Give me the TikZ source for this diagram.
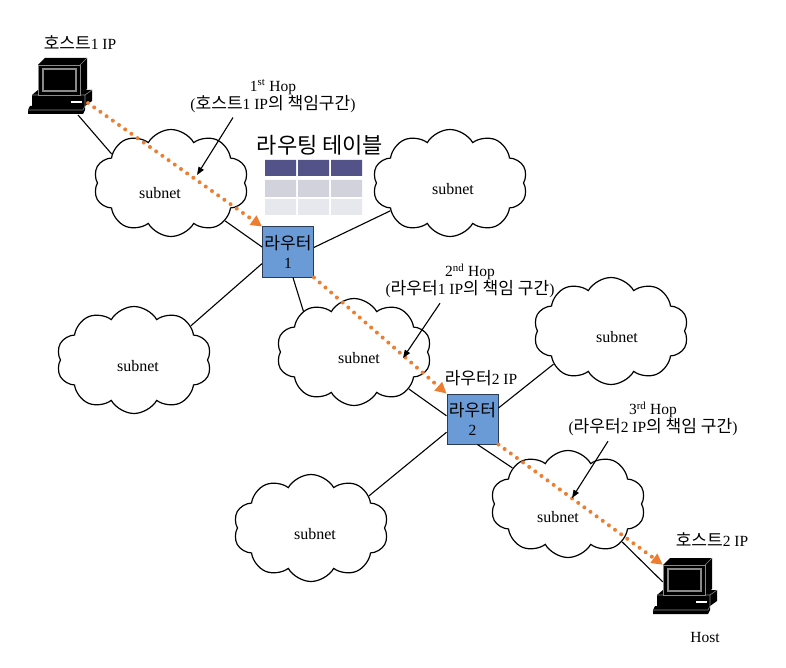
\documentclass[tikz,border=0pt]{standalone}
\usepackage{fontspec}
\setmainfont{Liberation Serif}
\newfontfamily\kr[Scale=1.1]{Noto Sans CJK KR}
\usetikzlibrary{shapes.symbols,arrows.meta,calc}

\definecolor{hoporange}{HTML}{ED7D31}
\definecolor{routerfill}{HTML}{6A9BD6}
\definecolor{routeredge}{HTML}{2B3A55}
\definecolor{tblhead}{HTML}{53538A}
\definecolor{tblrowa}{HTML}{D2D2DC}
\definecolor{tblrowb}{HTML}{E7E7EE}
\definecolor{pcedge}{HTML}{8A8A8A}

\tikzset{
  subnetcloud/.style={cloud, draw=black, line width=1.2pt, cloud puffs=10, cloud puff arc=120,
    aspect=1.45, minimum width=155pt, minimum height=107pt, inner sep=0pt},
  subnetlbl/.style={font=\fontsize{16}{19}\selectfont},
  router/.style={draw=routeredge, line width=1pt, fill=routerfill, minimum width=51pt,
    minimum height=50pt, inner sep=0pt, align=center, font=\fontsize{15.5}{19}\selectfont},
  link/.style={line width=1.1pt, draw=black},
  hoparrow/.style={line width=4pt, draw=hoporange, line cap=round, dash pattern=on 0pt off 7.6pt,
    -{Triangle[length=11pt,width=11pt,fill=hoporange]}},
  note/.style={align=center, inner sep=2pt, font=\fontsize{15.5}{18}\selectfont},
  notearrow/.style={line width=1.1pt, draw=black, -{Triangle[length=8pt,width=6pt]}},
  plain/.style={inner sep=1pt, font=\fontsize{15.5}{18}\selectfont},
}

\newcommand\pccomputer[3]{%
  \begin{scope}[shift={(#2,#3)}]
    % case
    \fill[black] (4,38) -- (10,33) -- (64,33) -- (64,44) -- (57,49) -- (4,49) -- cycle;
    \draw[pcedge, line width=0.6pt] (4,38) -- (57,38) -- (64,33) (57,38) -- (57,49);
    \draw[white, line width=1.5pt] (43,45) -- (54,45);
    % monitor body
    \fill[black] (10,8) -- (17,1) -- (59,1) -- (59,32) -- (52,38) -- (10,38) -- cycle;
    \node[name=#1, fill=black, draw=pcedge, line width=0.6pt, minimum width=42pt,
      minimum height=30pt, inner sep=0pt] at (31,23) {};
    \draw[pcedge, line width=0.6pt] (52,8) -- (59,1);
    \draw[pcedge, line width=1.1pt] (15,12) rectangle (48,34);
    % keyboard
    \fill[black] (2,49) -- (57,49) -- (57,53) -- (55,57) -- (0,57) -- (0,53) -- cycle;
    \draw[pcedge, line width=0.6pt] (0,53) -- (55,53) -- (57,49);
    \coordinate (#1kb) at (50,58);
    \coordinate (#1out) at (60,46);
  \end{scope}}

\begin{document}
\begin{tikzpicture}[x=1pt,y=-1pt]
\useasboundingbox (0,0) rectangle (786,668);

% clouds
\node[subnetcloud] (c1) at (171,183) {};
\node[subnetcloud] (c2) at (450,183) {};
\node[subnetcloud] (c3) at (134,360) {};
\node[subnetcloud] (c4) at (354,352) {};
\node[subnetcloud] (c5) at (611,331) {};
\node[subnetcloud] (c6) at (311,528) {};
\node[subnetcloud] (c7) at (568,504) {};
\node[subnetlbl] (s1) at (160,193) {subnet};
\node[subnetlbl] (s2) at (453,189) {subnet};
\node[subnetlbl] (s3) at (138,366) {subnet};
\node[subnetlbl] (s4) at (359,358) {subnet};
\node[subnetlbl] (s5) at (617,337) {subnet};
\node[subnetlbl] (s6) at (315,534) {subnet};
\node[subnetlbl] (s7) at (558,517) {subnet};

% hosts
\pccomputer{host1}{28}{57}
\pccomputer{host2}{653}{557}
\node[plain] (h1lbl) at (80,43) {{\kr 호스트}1 IP};
\node[plain] (h2lbl) at (712,540) {{\kr 호스트}2 IP};
\node[plain] (hostlbl) at (705,637) {Host};

% routing table
\node[inner sep=0pt, font=\kr\fontsize{20}{24}\selectfont] (tbltitle) at (320,145) {라우팅 테이블};
\fill[tblhead] (265,160) rectangle (296,176) (298,160) rectangle (329,176) (331,160) rectangle (362,176);
\fill[tblrowa] (265,180) rectangle (296,197) (298,180) rectangle (329,197) (331,180) rectangle (362,197);
\fill[tblrowb] (265,199) rectangle (296,215) (298,199) rectangle (329,215) (331,199) rectangle (362,215);

% routers
\node[router] (r1) at (288,252) {{\kr 라우터}\\1};
\node[router] (r2) at (472.5,419) {{\kr 라우터}\\2};
\node[plain] (r2lbl) at (481,378) {{\kr 라우터}2 IP};

% links
\draw[link] (host1kb) -- (c1.154);
\draw[link] (c1.-35) -- (r1.169);
\draw[link] (r1.10) -- (c2.205);
\draw[link] (r1.204) -- (c3.31);
\draw[link] (r1.-79) -- (c4.141);
\draw[link] (c4.-34) -- (r2.173);
\draw[link] (r2.23) -- (c5.210);
\draw[link] (r2.207) -- (c6.29);
\draw[link] (r2.-79) -- (c7.147);
\draw[link] (c7.-35) -- (host2.185);

% hop path
\draw[hoparrow] (host1out) -- (r1.north west);
\draw[hoparrow] (r1.south east) -- (r2.north west);
\draw[hoparrow] (r2.south east) -- (host2.north west);

% annotations
\node[note] (hop1) at (273,96) {1\textsuperscript{st} Hop\\({\kr 호스트}1 IP{\kr 의 책임구간})};
\node[note] (hop2) at (470,281) {2\textsuperscript{nd} Hop\\({\kr 라우터}1 IP{\kr 의 책임 구간})};
\node[note] (hop3) at (653,419) {3\textsuperscript{rd} Hop\\({\kr 라우터}2 IP{\kr 의 책임 구간})};
\coordinate (t1) at (197,175);
\coordinate (t2) at (403,358);
\coordinate (t3) at (572,498);
\draw[notearrow] ($(hop1.south)+(-40,3)$) -- (t1);
\draw[notearrow] ($(hop2.south)+(-30,3)$) -- (t2);
\draw[notearrow] ($(hop3.south)+(-45,3)$) -- (t3);
\end{tikzpicture}
\end{document}
